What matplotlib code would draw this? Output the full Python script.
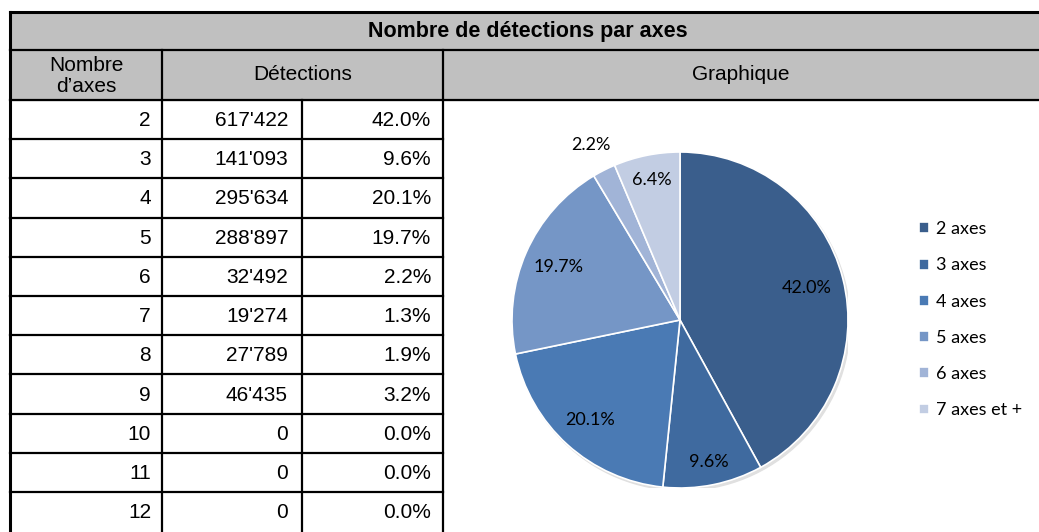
import matplotlib
matplotlib.use("Agg")
import matplotlib.pyplot as plt
import numpy as np

# Données du tableau
nb_axes = [2, 3, 4, 5, 6, 7, 8, 9, 10, 11, 12]
detections = [617422, 141093, 295634, 288897, 32492, 19274, 27789, 46435, 0, 0, 0]

# Données du graphique (7 axes et + = 7, 8, 9, ...)
pie_labels = ["2 axes", "3 axes", "4 axes", "5 axes", "6 axes", "7 axes et +"]
pie_values = [617422, 141093, 295634, 288897, 32492, 19274 + 27789 + 46435]
pie_colors = ["#3a5e8c", "#3f6a9f", "#4a7ab4", "#7596c6", "#a1b4d7", "#c2cde3"]

titre = "Nombre de détections par axes"

W, H = 1039, 532
fig = plt.figure(figsize=(W / 100, H / 100), dpi=100)
ax = fig.add_axes([0, 0, 1, 1])
ax.set_xlim(0, W)
ax.set_ylim(H, 0)
ax.axis("off")

# Géométrie du tableau (pixels)
x_left, x_c1, x_c2, x_c3, x_right = 10, 162, 302, 443, W
y_top, y_title, y_head = 12, 50, 100
row_h = 39.2
gris = "#c0c0c0"
lw = 1.6

ax.fill_between([x_left, x_right], y_top, y_head, color=gris, zorder=0)
ax.plot([x_left, x_right], [y_top, y_top], color="black", lw=2.2)
ax.plot([x_left, x_right], [y_title, y_title], color="black", lw=lw)
ax.plot([x_left, x_right], [y_head, y_head], color="black", lw=lw)
ax.plot([x_left, x_left], [y_top, H], color="black", lw=2.2)
ax.plot([x_c1, x_c1], [y_title, H], color="black", lw=lw)
ax.plot([x_c2, x_c2], [y_head, H], color="black", lw=lw)
ax.plot([x_c3, x_c3], [y_title, H], color="black", lw=lw)

police = "Liberation Sans"
fs = 15
ax.text((x_left + x_right) / 2 + 3, (y_top + y_title) / 2 + 1, titre, ha="center", va="center",
        fontsize=15.5, fontweight="bold", family=police)
ax.text((x_left + x_c1) / 2, (y_title + y_head) / 2 + 1, "Nombre\nd\u2019axes", ha="center", va="center",
        fontsize=fs, family=police, linespacing=1.12)
ax.text((x_c1 + x_c3) / 2, (y_title + y_head) / 2, "Détections", ha="center", va="center",
        fontsize=fs, family=police)
ax.text((x_c3 + x_right) / 2, (y_title + y_head) / 2, "Graphique", ha="center", va="center",
        fontsize=fs, family=police)

total = sum(detections)
for i, (n, d) in enumerate(zip(nb_axes, detections)):
    y0 = y_head + i * row_h
    yc = y0 + row_h / 2 + 1
    if i > 0:
        ax.plot([x_left, x_c3], [y0, y0], color="black", lw=lw)
    ax.text(x_c1 - 11, yc, str(n), ha="right", va="center", fontsize=fs, family=police)
    ax.text(x_c2 - 14, yc, f"{d:,}".replace(",", "'"), ha="right", va="center", fontsize=fs, family=police)
    ax.text(x_c3 - 12, yc, f"{100 * d / total:.1f}%", ha="right", va="center", fontsize=fs, family=police)

# Camembert
cx, cy, r = 680, 320, 168
axp = fig.add_axes([(cx - r) / W, (H - cy - r) / H, 2 * r / W, 2 * r / H])
# ombre légère
axp.add_patch(plt.Circle((0.012, -0.015), 1.0, color="#e0e0e0", zorder=0))
wedges, _ = axp.pie(pie_values, colors=pie_colors, startangle=90, counterclock=False,
                    wedgeprops=dict(edgecolor="white", linewidth=1.2))
axp.set_xlim(-1.0, 1.0)
axp.set_ylim(-1.0, 1.0)
axp.set_aspect("equal")
axp.set_clip_on(False)

dist = [0.78, 0.86, 0.80, 0.79, 1.17, 0.85]
psum = sum(pie_values)
for w, v, dd in zip(wedges, pie_values, dist):
    ang = np.deg2rad((w.theta1 + w.theta2) / 2)
    axp.text(dd * np.cos(ang), dd * np.sin(ang), f"{100 * v / psum:.1f}%",
             ha="center", va="center", fontsize=13, family="Lato")

leg = fig.legend(wedges, pie_labels, loc="upper left", bbox_to_anchor=(903 / W, 1 - 205 / H),
                 frameon=False, prop={"family": "Lato", "size": 13},
                 handlelength=0.55, handleheight=0.55, handletextpad=0.35, labelspacing=1.12)

fig.savefig("out.png", dpi=100)
